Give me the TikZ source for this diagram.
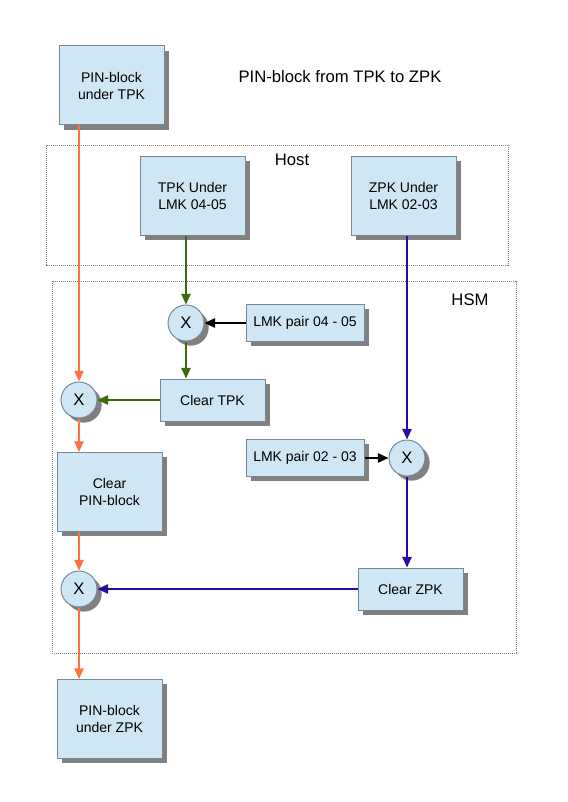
\documentclass[tikz,border=0pt]{standalone}
\usepackage{fontspec}
\setmainfont{Liberation Sans}
\usetikzlibrary{arrows.meta,shadows}

\definecolor{boxfill}{HTML}{CFE6F4}
\definecolor{boxdraw}{HTML}{7A8896}
\definecolor{pinorange}{HTML}{FF7043}
\definecolor{tpkgreen}{HTML}{3D6B0C}
\definecolor{zpkblue}{HTML}{2E0A9E}
\definecolor{framegray}{HTML}{7F7F7F}

\begin{document}
\begin{tikzpicture}[x=0.75pt,y=-0.75pt,
  base/.style={draw=boxdraw, fill=boxfill, line width=0.75pt, inner sep=0pt,
    align=center, font=\fontsize{10.5}{12.75}\selectfont,
    drop shadow={shadow xshift=3.5pt, shadow yshift=-3.5pt, fill=gray, opacity=1}},
  keybox/.style={base, rectangle, minimum width=78.75pt, minimum height=59.25pt},
  flatbox/.style={base, rectangle, minimum width=78.75pt, minimum height=31.5pt},
  lmkbox/.style={base, rectangle, minimum width=88.5pt, minimum height=27.75pt},
  xor/.style={base, circle, minimum size=27pt, font=\fontsize{12.5}{15}\selectfont},
  frame/.style={draw=framegray, line width=0.75pt, dash pattern=on 0.9pt off 0.6pt},
  label/.style={font=\fontsize{12.5}{15}\selectfont},
  flow/.style={line width=1.3pt, -{Triangle[length=8pt,width=7pt]}}]

\useasboundingbox (0,0) rectangle (567,802);

% Title
\node[label] (title) at (340,77) {PIN-block from TPK to ZPK};

% Host and HSM areas
\draw[frame] (46,146) rectangle (508,265);
\node[label] (host) at (292,160) {Host};
\draw[frame] (52,281) rectangle (516,653);
\node[label] (hsm) at (470,300) {HSM};

% Input PIN-block
\node[keybox] (pinTPK) at (111.5,85.5) {PIN-block\\under TPK};

% Keys on the host
\node[keybox] (tpkLMK) at (192.5,196) {TPK Under\\LMK 04-05};
\node[keybox] (zpkLMK) at (403.5,196) {ZPK Under\\LMK 02-03};

% Inside the HSM
\node[xor] (x1) at (186,323) {X};
\node[lmkbox] (lmk45) at (305,323) {LMK pair 04 - 05};
\node[flatbox] (clearTPK) at (212.5,400) {Clear TPK};
\node[xor] (x2) at (79,400) {X};
\node[keybox] (clearPIN) at (109.5,492) {Clear\\PIN-block};
\node[lmkbox] (lmk23) at (305,458) {LMK pair 02 - 03};
\node[xor] (x3) at (407,458) {X};
\node[flatbox] (clearZPK) at (410.5,589) {Clear ZPK};
\node[xor] (x4) at (79,589) {X};

% Output PIN-block
\node[keybox] (pinZPK) at (109.5,719) {PIN-block\\under ZPK};

% PIN-block path
\draw[flow, pinorange] (pinTPK.south -| x2) -- (x2);
\draw[flow, pinorange] (x2) -- (clearPIN.north -| x2);
\draw[flow, pinorange] (clearPIN.south -| x4) -- (x4);
\draw[flow, pinorange] (x4) -- (pinZPK.north -| x4);

% TPK path
\draw[flow, tpkgreen] (tpkLMK.south -| x1) -- (x1);
\draw[flow, tpkgreen] (x1) -- (clearTPK.north -| x1);
\draw[flow, tpkgreen] (clearTPK) -- (x2);

% ZPK path
\draw[flow, zpkblue] (zpkLMK.south -| x3) -- (x3);
\draw[flow, zpkblue] (x3) -- (clearZPK.north -| x3);
\draw[flow, zpkblue] (clearZPK) -- (x4);

% LMK pairs
\draw[flow, black] (lmk45) -- (x1);
\draw[flow, black] (lmk23) -- (x3);

\end{tikzpicture}
\end{document}
